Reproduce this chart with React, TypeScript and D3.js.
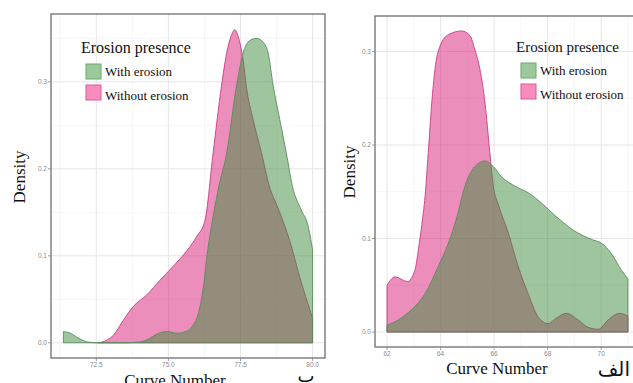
import * as d3 from 'd3';

type Pt = [number, number];

// panel "ب" (left)
const withErosionB: Pt[] = [
  [71.36, 0.013], [71.6, 0.011], [71.9, 0.005], [72.2, 0.001], [72.5, 0], [73.0, 0], [73.5, 0],
  [74.0, 0.001], [74.3, 0.004], [74.6, 0.01], [74.95, 0.013], [75.3, 0.011], [75.6, 0.013],
  [75.85, 0.02], [76.05, 0.035], [76.2, 0.061], [76.35, 0.103], [76.55, 0.145], [76.75, 0.18],
  [77.02, 0.218], [77.36, 0.295], [77.59, 0.333], [77.8, 0.347], [78.05, 0.35], [78.3, 0.345],
  [78.46, 0.333], [78.63, 0.296], [78.86, 0.257], [79.09, 0.218], [79.3, 0.18], [79.6, 0.153],
  [79.83, 0.136], [80.0, 0.107],
];
const withoutErosionB: Pt[] = [
  [72.55, 0], [72.8, 0.002], [73.1, 0.009], [73.44, 0.026], [73.79, 0.042], [74.25, 0.055],
  [74.71, 0.072], [75.17, 0.088], [75.52, 0.101], [75.98, 0.122], [76.27, 0.141], [76.55, 0.218],
  [76.84, 0.295], [77.02, 0.333], [77.18, 0.353], [77.3, 0.36], [77.42, 0.352], [77.59, 0.325],
  [77.7, 0.295], [77.94, 0.256], [78.23, 0.218], [78.5, 0.18], [78.8, 0.155], [79.2, 0.118],
  [79.55, 0.076], [80.0, 0.028],
];

// panel "الف" (right)
const withErosionA: Pt[] = [
  [62, 0.0075], [62.42, 0.013], [62.92, 0.024], [63.42, 0.041], [63.91, 0.07], [64.29, 0.095],
  [64.6, 0.122], [64.91, 0.156], [65.28, 0.177], [65.66, 0.183], [65.97, 0.177], [66.28, 0.166],
  [66.78, 0.156], [67.27, 0.149], [67.77, 0.138], [68.3, 0.124], [69.01, 0.108], [69.64, 0.099],
  [70.01, 0.095], [70.38, 0.084], [70.76, 0.066], [71, 0.057],
];
const withoutErosionA: Pt[] = [
  [62, 0.05], [62.3, 0.059], [62.76, 0.054], [63.04, 0.066], [63.17, 0.088], [63.3, 0.115],
  [63.42, 0.145], [63.54, 0.192], [63.67, 0.245], [63.79, 0.281], [63.98, 0.306], [64.29, 0.318],
  [64.79, 0.322], [65.1, 0.317], [65.28, 0.302], [65.47, 0.281], [65.66, 0.245], [65.84, 0.192],
  [65.97, 0.156], [66.15, 0.137], [66.53, 0.106], [66.9, 0.07], [67.27, 0.041], [67.65, 0.016],
  [68.02, 0.009], [68.33, 0.015], [68.7, 0.02], [69.14, 0.013], [69.51, 0.005], [69.89, 0.003],
  [70.26, 0.013], [70.69, 0.02], [71, 0.017],
];

const ticksB = [72.5, 75, 77.5, 80];
const ticksA = [62, 64, 66, 68, 70];
const yTicks = [0, 0.1, 0.2, 0.3];
const legendTitle = 'Erosion presence';
const legendLabels = ['With erosion', 'Without erosion'];

const GREEN = '#3d8c3d';
const PINK = '#d71e78';
const serif = '"Liberation Serif", "Times New Roman", serif';
const sans = '"Liberation Sans", Arial, sans-serif';

type PanelProps = {
  withE: Pt[];
  withoutE: Pt[];
  xDomain: [number, number];
  yDomain: [number, number];
  box: { left: number; right: number; top: number; bottom: number };
  xTicks: number[];
  xFmt: (v: number) => string;
  legend: { x: number; y: number; titleSize: number };
  xTitle: { x: number; y: number };
  yTitle: { x: number; y: number };
  tag: { text: string; x: number; y: number; anchor: string; size: number };
};

const Panel: React.FC<PanelProps> = ({
  withE, withoutE, xDomain, yDomain, box, xTicks, xFmt, legend, xTitle, yTitle, tag,
}) => {
  const x = d3.scaleLinear().domain(xDomain).range([box.left, box.right]);
  const y = d3.scaleLinear().domain(yDomain).range([box.bottom, box.top]);

  const area = d3
    .area<Pt>()
    .x((d) => x(d[0]))
    .y0(y(0))
    .y1((d) => y(d[1]))
    .curve(d3.curveMonotoneX);

  const step = xTicks[1] - xTicks[0];
  const minorX: number[] = [];
  for (let v = xTicks[0] - step / 2; v < xDomain[1]; v += step) if (v > xDomain[0]) minorX.push(v);
  const minorY = [0.05, 0.15, 0.25, 0.35].filter((v) => v < yDomain[1]);

  return (
    <g>
      <rect x={box.left} y={box.top} width={box.right - box.left} height={box.bottom - box.top} fill="#fff" />
      {minorX.map((v) => (
        <line key={'mx' + v} x1={x(v)} x2={x(v)} y1={box.top} y2={box.bottom} stroke="#f2f2f2" strokeWidth={0.8} />
      ))}
      {minorY.map((v) => (
        <line key={'my' + v} x1={box.left} x2={box.right} y1={y(v)} y2={y(v)} stroke="#f2f2f2" strokeWidth={0.8} />
      ))}
      {xTicks.map((v) => (
        <line key={'gx' + v} x1={x(v)} x2={x(v)} y1={box.top} y2={box.bottom} stroke="#e6e6e6" strokeWidth={1} />
      ))}
      {yTicks.map((v) => (
        <line key={'gy' + v} x1={box.left} x2={box.right} y1={y(v)} y2={y(v)} stroke="#e6e6e6" strokeWidth={1} />
      ))}
      <path d={area(withoutE)!} fill={PINK} fillOpacity={0.5} stroke="#c83c82" strokeWidth={0.9} />
      <path d={area(withE)!} fill={GREEN} fillOpacity={0.5} stroke="#5a8c5a" strokeWidth={0.9} />
      <rect
        x={box.left}
        y={box.top}
        width={box.right - box.left}
        height={box.bottom - box.top}
        fill="none"
        stroke="#6e6e6e"
        strokeWidth={1.3}
      />
      {xTicks.map((v) => (
        <g key={'tx' + v}>
          <line x1={x(v)} x2={x(v)} y1={box.bottom} y2={box.bottom + 3} stroke="#888" strokeWidth={0.8} />
          <text x={x(v)} y={box.bottom + 9} fontSize={6.5} fill="#8a8a8a" fontFamily={sans} textAnchor="middle">
            {xFmt(v)}
          </text>
        </g>
      ))}
      {yTicks.map((v) => (
        <g key={'ty' + v}>
          <line x1={box.left - 3} x2={box.left} y1={y(v)} y2={y(v)} stroke="#888" strokeWidth={0.8} />
          <text x={box.left - 4} y={y(v) + 2.3} fontSize={6.5} fill="#8a8a8a" fontFamily={sans} textAnchor="end">
            {d3.format('.1f')(v)}
          </text>
        </g>
      ))}
      <text x={legend.x - 5} y={legend.y} fontSize={legend.titleSize} fontFamily={serif} fill="#111">
        {legendTitle}
      </text>
      {legendLabels.map((lab, i) => (
        <g key={lab}>
          <rect
            x={legend.x}
            y={legend.y + 11 + i * 21}
            width={15}
            height={15}
            fill={i === 0 ? '#9cc89c' : '#f78cbd'}
            stroke={i === 0 ? '#6fa56f' : '#dc5a98'}
            strokeWidth={1}
          />
          <text x={legend.x + 19} y={legend.y + 23 + i * 23.5} fontSize={13} fontFamily={serif} fill="#111">
            {lab}
          </text>
        </g>
      ))}
      <text x={xTitle.x} y={xTitle.y} fontSize={17} fontFamily={serif} fill="#111" textAnchor="middle">
        Curve Number
      </text>
      <text
        transform={`translate(${yTitle.x},${yTitle.y}) rotate(-90)`}
        fontSize={17}
        fontFamily={serif}
        fill="#111"
        textAnchor="middle"
      >
        Density
      </text>
      <text x={tag.x} y={tag.y} fontSize={tag.size} fontFamily='"DejaVu Sans", sans-serif' fill="#111" textAnchor={tag.anchor}>
        {tag.text}
      </text>
    </g>
  );
};

export default function App() {
  return (
    <svg width={633} height={383} style={{ position: 'absolute', left: 0, top: 0, background: '#fff' }}>
      <rect width={633} height={383} fill="#fff" />
      <Panel
        withE={withErosionB}
        withoutE={withoutErosionB}
        xDomain={[70.93, 80.43]}
        yDomain={[-0.0175, 0.378]}
        box={{ left: 51, right: 325, top: 14, bottom: 358 }}
        xTicks={ticksB}
        xFmt={d3.format('.1f')}
        legend={{ x: 86, y: 53, titleSize: 16 }}
        xTitle={{ x: 175, y: 386 }}
        yTitle={{ x: 25, y: 177 }}
        tag={{ text: 'ب', x: 306, y: 382, anchor: 'middle', size: 18 }}
      />
      <Panel
        withE={withErosionA}
        withoutE={withoutErosionA}
        xDomain={[61.55, 71.45]}
        yDomain={[-0.016, 0.338]}
        box={{ left: 375, right: 640, top: 16, bottom: 347 }}
        xTicks={ticksA}
        xFmt={d3.format('d')}
        legend={{ x: 521, y: 52, titleSize: 15 }}
        xTitle={{ x: 497, y: 374 }}
        yTitle={{ x: 355, y: 172 }}
        tag={{ text: 'الف', x: 630, y: 376, anchor: 'end', size: 20 }}
      />
    </svg>
  );
}
